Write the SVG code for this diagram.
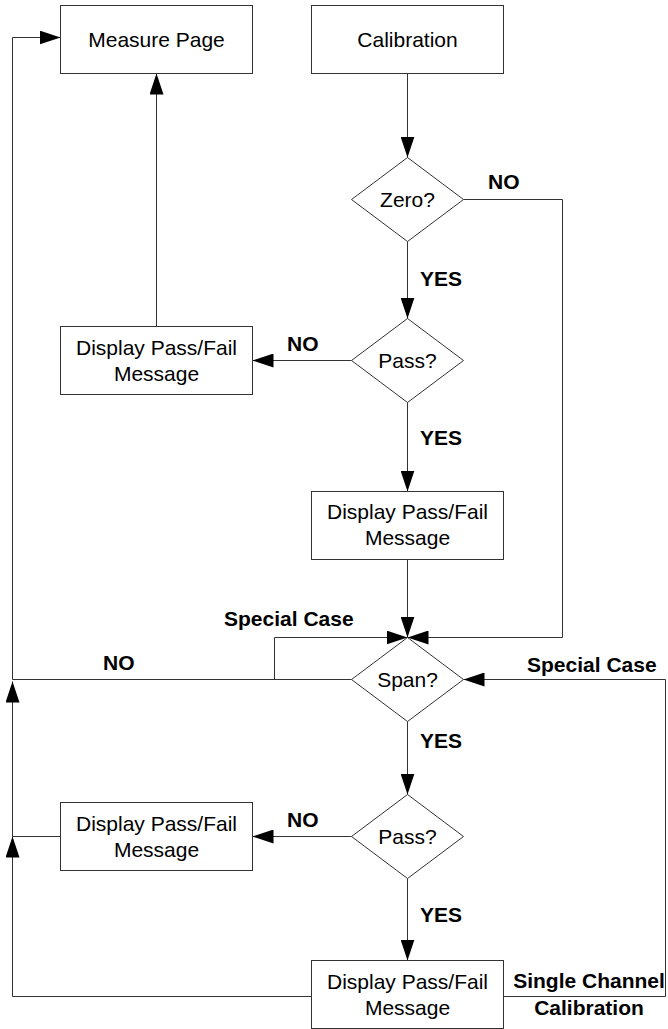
<svg xmlns="http://www.w3.org/2000/svg" width="668" height="1029" viewBox="0 0 668 1029">
<style>
.box{fill:#fff;stroke:#333;stroke-width:1}
.t{font-family:"Liberation Sans",Arial,Helvetica,sans-serif;font-size:21px;fill:#000;text-anchor:middle}
.l{font-family:"Liberation Sans",Arial,Helvetica,sans-serif;font-size:21px;font-weight:bold;fill:#000}
.c{fill:none;stroke:#333;stroke-width:1}
</style>
<defs>
<marker id="arr" markerUnits="userSpaceOnUse" markerWidth="22" markerHeight="14" refX="21" refY="7" orient="auto">
<path d="M0,0 L21,7 L0,14 z" fill="#000"/>
</marker>
</defs>
<rect width="668" height="1029" fill="#fff"/>
<g id="connectors">
<path class="c" d="M407.5,73.5 V157.5" marker-end="url(#arr)"/>
<path class="c" d="M407.5,241.5 V318.5" marker-end="url(#arr)"/>
<path class="c" d="M351.5,360.5 H252.5" marker-end="url(#arr)"/>
<path class="c" d="M156.5,326.5 V73.5" marker-end="url(#arr)"/>
<path class="c" d="M407.5,402.5 V491.5" marker-end="url(#arr)"/>
<path class="c" d="M407.5,559.5 V637.5" marker-end="url(#arr)"/>
<path class="c" d="M463.5,199.5 H562.5 V637.5 H407.5" marker-end="url(#arr)"/>
<path class="c" d="M274.5,679.5 V637.5 H407.5" marker-end="url(#arr)"/>
<path class="c" d="M351.5,679.5 H12.5 V37.5 H60.5" marker-end="url(#arr)"/>
<path class="c" d="M503.5,996.5 H665.5 V679.5 H463.5" marker-end="url(#arr)"/>
<path class="c" d="M407.5,721.5 V794.5" marker-end="url(#arr)"/>
<path class="c" d="M351.5,836.5 H252.5" marker-end="url(#arr)"/>
<path class="c" d="M407.5,878.5 V960.5" marker-end="url(#arr)"/>
<path class="c" d="M60.5,836.5 H12.5"/>
<path class="c" d="M311.5,996.5 H12.5 V836.5" marker-end="url(#arr)"/>
<path class="c" d="M12.5,836.5 V681.5" marker-end="url(#arr)"/>
<text class="l" x="488" y="189">NO</text>
<text class="l" x="420" y="286">YES</text>
<text class="l" x="287" y="351">NO</text>
<text class="l" x="420" y="445">YES</text>
<text class="l" x="224" y="626">Special Case</text>
<text class="l" x="103" y="670">NO</text>
<text class="l" x="527" y="672">Special Case</text>
<text class="l" x="420" y="748">YES</text>
<text class="l" x="287" y="827">NO</text>
<text class="l" x="420" y="922">YES</text>
<text class="l" x="589" y="988" text-anchor="middle">Single Channel</text>
<text class="l" x="589" y="1015" text-anchor="middle">Calibration</text>
</g>
<g id="measure">
<rect class="box" x="60.5" y="5.5" width="192" height="68"/>
<text class="t" x="156.5" y="46.5">Measure Page</text>
</g>
<g id="calibration">
<rect class="box" x="311.5" y="5.5" width="192" height="68"/>
<text class="t" x="407.5" y="46.5">Calibration</text>
</g>
<g id="zero">
<polygon class="box" points="407.5,157.5 463.5,199.5 407.5,241.5 351.5,199.5"/>
<text class="t" x="407.5" y="206.5">Zero?</text>
</g>
<g id="pass1">
<polygon class="box" points="407.5,318.5 463.5,360.5 407.5,402.5 351.5,360.5"/>
<text class="t" x="407.5" y="367.5">Pass?</text>
</g>
<g id="display1">
<rect class="box" x="60.5" y="326.5" width="192" height="68"/>
<text class="t" x="156.5" y="354.5">Display Pass/Fail</text>
<text class="t" x="156.5" y="380.5">Message</text>
</g>
<g id="display2">
<rect class="box" x="311.5" y="491.5" width="192" height="68"/>
<text class="t" x="407.5" y="519">Display Pass/Fail</text>
<text class="t" x="407.5" y="545">Message</text>
</g>
<g id="span">
<polygon class="box" points="407.5,637.5 463.5,679.5 407.5,721.5 351.5,679.5"/>
<text class="t" x="407.5" y="686.5">Span?</text>
</g>
<g id="pass2">
<polygon class="box" points="407.5,794.5 463.5,836.5 407.5,878.5 351.5,836.5"/>
<text class="t" x="407.5" y="843.5">Pass?</text>
</g>
<g id="display3">
<rect class="box" x="60.5" y="802.5" width="192" height="68"/>
<text class="t" x="156.5" y="830.5">Display Pass/Fail</text>
<text class="t" x="156.5" y="856.5">Message</text>
</g>
<g id="display4">
<rect class="box" x="311.5" y="960.5" width="192" height="68"/>
<text class="t" x="407.5" y="988.5">Display Pass/Fail</text>
<text class="t" x="407.5" y="1014.5">Message</text>
</g>
</svg>
